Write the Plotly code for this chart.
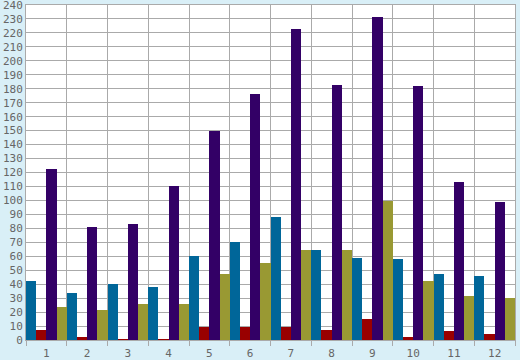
import plotly.graph_objects as go

categories = ["1", "2", "3", "4", "5", "6", "7", "8", "9", "10", "11", "12"]
series_blue = [42, 34, 40, 38, 60, 70, 88, 64.5, 59, 58, 47, 46]
series_red = [7, 2, 0.6, 0.6, 9, 9.5, 9, 7.5, 15, 2, 6.5, 4.5]
series_purple = [122.5, 81, 83, 110, 150, 176, 222.5, 183, 231.5, 182, 113, 99]
series_olive = [24, 21.5, 26, 26, 47, 55, 64.5, 64.5, 99.5, 42, 31.5, 30]

names = ["Series A", "Series B", "Series C", "Series D"]
colors = ["#006699", "#990000", "#330066", "#999933"]
values = [series_blue, series_red, series_purple, series_olive]

fig = go.Figure()
for n, c, v in zip(names, colors, values):
    fig.add_trace(go.Bar(x=categories, y=v, name=n, marker=dict(color=c, line=dict(width=0))))

grid = "#aaaaaa"
fig.update_layout(
    width=520, height=360,
    margin=dict(l=26, r=5, t=5, b=20, autoexpand=False),
    paper_bgcolor="#d9eff7",
    plot_bgcolor="#ffffff",
    barmode="group", bargap=0, bargroupgap=0,
    showlegend=False,
    font=dict(family="DejaVu Sans Mono", size=11, color="#666666"),
)
fig.update_xaxes(
    type="category", range=[-0.5, 11.5], tickson="boundaries",
    showgrid=True, gridcolor=grid, gridwidth=1,
    ticks="outside", ticklen=5, tickcolor=grid,
    showline=True, linecolor=grid, mirror=True, layer="below traces",
    automargin=False, ticklabelstandoff=3, ticklabeloverflow="allow",
)
fig.update_yaxes(
    range=[0, 240], dtick=10, showgrid=True, gridcolor=grid, gridwidth=1,
    zeroline=False, ticks="", showline=True, linecolor=grid, mirror=True,
    layer="below traces", ticklabelstandoff=0, automargin=False,
    ticklabeloverflow="allow",
)
fig.write_html(
    "out.html",
    config={"displayModeBar": False},
    post_script="document.body.style.margin='0';document.body.style.padding='0';document.body.style.background='#d9eff7';",
)
